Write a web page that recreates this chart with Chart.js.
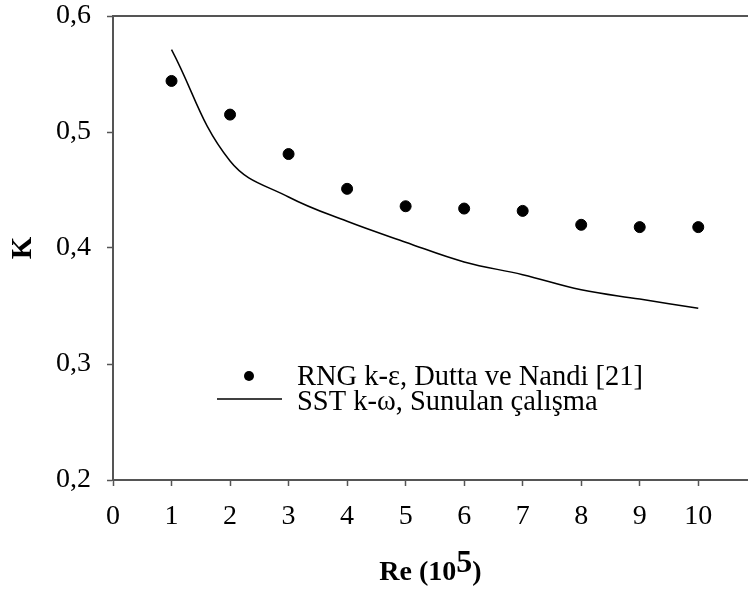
<!DOCTYPE html>
<html>
<head>
<meta charset="utf-8">
<script src="https://cdn.jsdelivr.net/npm/chart.js@4"></script>
<style>
    html, body { margin: 0; padding: 0; background: #fff; overflow: hidden; }
    #wrap { width: 748px; height: 592px; position: relative; }
</style>
</head>
<body>
<div id="wrap"><canvas id="k-chart"></canvas></div>
<script>
const reValues = [1, 2, 3, 4, 5, 6, 7, 8, 9, 10];
const rngK = [0.544, 0.515, 0.481, 0.451, 0.436, 0.434, 0.432, 0.420, 0.418, 0.418];
const sstK = [0.571, 0.475, 0.444, 0.423, 0.405, 0.388, 0.377, 0.364, 0.356, 0.348];
const seriesNames = ['RNG k-\u03b5, Dutta ve Nandi [21]', 'SST k-\u03c9, Sunulan \u00e7al\u0131\u015fma'];
const xTitle = ['Re (10', '5', ')'];
const yTitle = 'K';

const serif = "'Liberation Serif', 'Times New Roman', serif";
const axisColor = '#555';

document.addEventListener('DOMContentLoaded', () => {
    let ctx = document.getElementById('k-chart').getContext('2d');

    // ust cerceve cizgisi, x ekseni basligi (ussu ile) ve grafik ici lejant
    const extras = {
        id: 'extras',
        afterDraw(chart) {
            const c = chart.ctx;
            const area = chart.chartArea;
            c.save();
            c.strokeStyle = axisColor;
            c.lineWidth = 2;
            c.beginPath();
            c.moveTo(area.left, area.top);
            c.lineTo(chart.width, area.top);
            c.stroke();

            // x title
            c.fillStyle = '#000';
            c.textBaseline = 'alphabetic';
            c.textAlign = 'left';
            const baseFont = 'bold 28px ' + serif;
            const supFont = 'bold 32px ' + serif;
            c.font = baseFont;
            const w1 = c.measureText(xTitle[0]).width;
            const w3 = c.measureText(xTitle[2]).width;
            c.font = supFont;
            const w2 = c.measureText(xTitle[1]).width;
            let x = (area.left + area.right) / 2 - (w1 + w2 + w3) / 2;
            const base = 580;
            c.font = baseFont;
            c.fillText(xTitle[0], x, base);
            c.font = supFont;
            c.fillText(xTitle[1], x + w1, base - 8);
            c.font = baseFont;
            c.fillText(xTitle[2], x + w1 + w2, base);

            // legend
            c.font = '28.5px ' + serif;
            c.beginPath();
            c.arc(249, 376, 5, 0, Math.PI * 2);
            c.fill();
            c.fillText(chart.data.datasets[0].label, 297, 385);
            c.strokeStyle = '#000';
            c.lineWidth = 1.5;
            c.beginPath();
            c.moveTo(217, 399);
            c.lineTo(282, 399);
            c.stroke();
            c.fillText(chart.data.datasets[1].label, 297, 410);
            c.restore();
        }
    };

    let kChart = new Chart(ctx, {
        type: 'scatter',
        data: {
            datasets: [
                {
                    label: seriesNames[0],
                    data: reValues.map((r, i) => ({x: r, y: rngK[i]})),
                    backgroundColor: '#000',
                    borderColor: '#000',
                    pointRadius: 5.5,
                    showLine: false
                },
                {
                    label: seriesNames[1],
                    data: reValues.map((r, i) => ({x: r, y: sstK[i]})),
                    borderColor: '#000',
                    borderWidth: 1.5,
                    pointRadius: 0,
                    showLine: true,
                    tension: 0.4
                }
            ]
        },
        options: {
            responsive: true,
            maintainAspectRatio: false,
            animation: false,
            layout: {autoPadding: false, padding: {top: 16, right: 0, left: 0, bottom: 0}},
            plugins: {
                legend: {display: false},
                tooltip: {enabled: false}
            },
            scales: {
                x: {
                    type: 'linear',
                    min: 0,
                    max: 10.85,
                    afterFit: (scale) => {
                        scale.height = 112;
                        scale.paddingLeft = 0;
                        scale.paddingRight = 0;
                    },
                    border: {display: true, color: axisColor, width: 2},
                    grid: {display: true, drawOnChartArea: false, drawTicks: true, tickLength: 6, tickColor: axisColor, tickWidth: 1.5},
                    ticks: {
                        stepSize: 1,
                        includeBounds: false,
                        color: '#000',
                        padding: 14,
                        maxRotation: 0,
                        font: {family: serif, size: 28}
                    }
                },
                y: {
                    min: 0.2,
                    max: 0.6,
                    afterFit: (scale) => {
                        scale.width = 113;
                        scale.paddingTop = 0;
                        scale.paddingBottom = 0;
                    },
                    border: {display: true, color: axisColor, width: 2},
                    grid: {display: true, drawOnChartArea: false, drawTicks: true, tickLength: 6, tickColor: axisColor, tickWidth: 1.5},
                    title: {
                        display: true,
                        text: yTitle,
                        color: '#000',
                        padding: {top: 6, bottom: 0},
                        font: {family: serif, size: 29, weight: 'bold'}
                    },
                    ticks: {
                        stepSize: 0.1,
                        color: '#000',
                        padding: 16,
                        font: {family: serif, size: 28},
                        callback: (v) => v.toFixed(1).replace('.', ',')
                    }
                }
            }
        },
        plugins: [extras]
    });
});
</script>
</body>
</html>
